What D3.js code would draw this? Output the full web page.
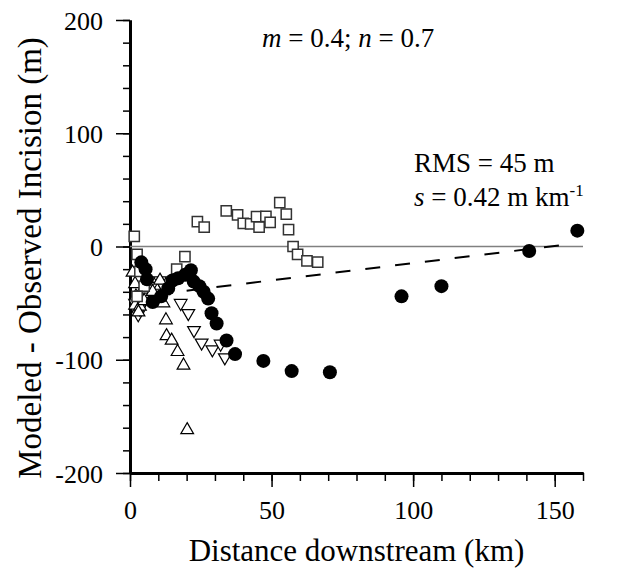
<!DOCTYPE html>
<html>
<head>
<meta charset="utf-8">
<script src="https://cdn.jsdelivr.net/npm/d3@7"></script>
<style>
	body { margin: 0; background: #fff; }
	text { font-family: "Liberation Serif", "Times New Roman", serif; fill: #000; }
</style>
</head>
<body>
<div id="chart"></div>
<script>
// misfit points, [distance km, modeled - observed m]
var circles = [[4,-14],[5.5,-20],[6,-29],[8,-49],[11,-44],[13.5,-37],[15,-30],[17,-28],[19.5,-25],[21.5,-21],
	[22.5,-31],[24.5,-35],[26,-40],[27.6,-46],[28.8,-59],[30.6,-68],[34.1,-83],[37.1,-95],[47.1,-101],
	[57.1,-110],[70.6,-111],[95.9,-44],[110,-35],[141,-4],[158,14]];
var squares = [[1.5,9],[2.5,-7],[3.5,-22],[5,-35],[2.5,-44],[16.5,-20],[19.4,-9],[23.8,22],[26.2,17],
	[34,31.5],[38,28],[40,20.5],[42.6,20],[44.7,26.3],[45.6,17],[48,26.5],[49.5,21.4],[52.9,38.7],
	[55.2,28.5],[56,15],[57.6,0],[59.2,-7],[62.5,-12.7],[66.3,-13.7]];
var trianglesUp = [[0.9,-23],[1.8,-33],[2.1,-44],[1.8,-52],[3.5,-53],[4.5,-38],[6,-35],[8,-40],[10.6,-30],
	[11.8,-50],[12.7,-65],[12.9,-79],[14.7,-83],[16.8,-93],[18.9,-105],[20.2,-162],[5,-48],[3,-58]];
var trianglesDown = [[1.8,-50],[2.9,-60],[3.5,-55],[5.5,-42],[7.6,-35],[8.8,-41],[10.6,-30],[12,-36],
	[14.1,-36],[17.9,-50],[20.6,-59],[22.6,-74],[25.3,-85],[29.1,-91],[32,-86],[33.5,-98]];
var trendLine = [[20,-39],[155,2]];
var xMajor = [0, 50, 100, 150];
var yMajor = [-200, -100, 0, 100, 200];

var w = 618, h = 574;
var plotLeft = 130, plotRight = 583, plotTop = 20, plotBottom = 473;

const svg = d3.select("#chart")
	.append("svg")
	.attr("width", w)
	.attr("height", h);

var xScale = d3.scaleLinear()
	.domain([0, 160])
	.range([plotLeft, plotRight]);

var yScale = d3.scaleLinear()
	.domain([-200, 200])
	.range([plotBottom, plotTop]);

// plain hyphen for negatives, like the original
var plain = function(d) { return String(d) };

// minor ticks first, then major ticks with labels
svg.append("g")
	.attr("transform", "translate(" + plotLeft + ",0)")
	.call(d3.axisLeft(yScale).tickValues(d3.range(-200, 201, 20)).tickSize(7).tickSizeOuter(0).tickFormat(""));
svg.append("g")
	.attr("transform", "translate(0," + plotBottom + ")")
	.call(d3.axisBottom(xScale).tickValues(d3.range(0, 161, 10)).tickSize(8).tickSizeOuter(0).tickFormat(""));

var yAxis = svg.append("g")
	.attr("transform", "translate(" + plotLeft + ",0)")
	.call(d3.axisLeft(yScale).tickValues(yMajor).tickSize(14).tickSizeOuter(0).tickPadding(13).tickFormat(plain));
var xAxis = svg.append("g")
	.attr("transform", "translate(0," + plotBottom + ")")
	.call(d3.axisBottom(xScale).tickValues(xMajor).tickSize(14).tickSizeOuter(0).tickPadding(14).tickFormat(plain));

svg.selectAll("g").attr("font-family", null);
svg.selectAll(".tick line").attr("stroke", "#000").attr("stroke-width", 1.5);
svg.selectAll(".domain").attr("stroke", "#000").attr("stroke-width", 3);
svg.selectAll(".tick text")
	.style("font-family", "Liberation Serif")
	.style("font-size", "26px");
yAxis.selectAll(".tick text").attr("dy", "0.35em");

// zero line
svg.append("line")
	.attr("x1", xScale(0)).attr("x2", xScale(160))
	.attr("y1", yScale(0)).attr("y2", yScale(0))
	.attr("stroke", "#808080")
	.attr("stroke-width", 1.5);

svg.append("path")
	.datum(trendLine)
	.attr("fill", "none")
	.attr("stroke", "#000")
	.attr("stroke-width", 2)
	.attr("stroke-dasharray", "15,15")
	.attr("d", d3.line()
		.x(function(d) { return xScale(d[0]) })
		.y(function(d) { return yScale(d[1]) })
	);

var tri = d3.symbol().type(d3.symbolTriangle).size(70);

svg.selectAll(".tdown")
	.data(trianglesDown)
	.enter().append("path")
	.attr("class", "tdown")
	.attr("d", tri)
	.attr("transform", function(d) { return "translate(" + xScale(d[0]) + "," + yScale(d[1]) + ") rotate(180)" })
	.attr("fill", "#fff")
	.attr("stroke", "#000")
	.attr("stroke-width", 1.2);

svg.selectAll(".tup")
	.data(trianglesUp)
	.enter().append("path")
	.attr("class", "tup")
	.attr("d", tri)
	.attr("transform", function(d) { return "translate(" + xScale(d[0]) + "," + yScale(d[1]) + ")" })
	.attr("fill", "#fff")
	.attr("stroke", "#000")
	.attr("stroke-width", 1.2);

svg.selectAll(".sq")
	.data(squares)
	.enter().append("path")
	.attr("class", "sq")
	.attr("d", d3.symbol().type(d3.symbolSquare).size(105))
	.attr("transform", function(d) { return "translate(" + xScale(d[0]) + "," + yScale(d[1]) + ")" })
	.attr("fill", "#fff")
	.attr("stroke", "#333")
	.attr("stroke-width", 1.5);

svg.selectAll(".dot")
	.data(circles)
	.enter().append("circle")
	.attr("class", "dot")
	.attr("cx", function(d) { return xScale(d[0]) })
	.attr("cy", function(d) { return yScale(d[1]) })
	.attr("r", 7)
	.attr("fill", "#000");

// axis titles
svg.append("text")
	.attr("x", (plotLeft + plotRight) / 2)
	.attr("y", 561)
	.attr("text-anchor", "middle")
	.style("font-size", "31px")
	.text("Distance downstream (km)");

svg.append("text")
	.attr("transform", "translate(41,258) rotate(-90)")
	.attr("text-anchor", "middle")
	.style("font-size", "33px")
	.text("Modeled - Observed Incision (m)");

// annotations
var t1 = svg.append("text").attr("x", 262).attr("y", 47).style("font-size", "27px");
t1.append("tspan").style("font-style", "italic").text("m");
t1.append("tspan").text(" = 0.4; ");
t1.append("tspan").style("font-style", "italic").text("n");
t1.append("tspan").text(" = 0.7");

svg.append("text").attr("x", 414).attr("y", 172).style("font-size", "27px").text("RMS = 45 m");

var t2 = svg.append("text").attr("x", 414).attr("y", 206).style("font-size", "27px");
t2.append("tspan").style("font-style", "italic").text("s");
t2.append("tspan").text(" = 0.42 m km");
t2.append("tspan").attr("dy", -10).style("font-size", "17px").text("-1");
</script>
</body>
</html>
